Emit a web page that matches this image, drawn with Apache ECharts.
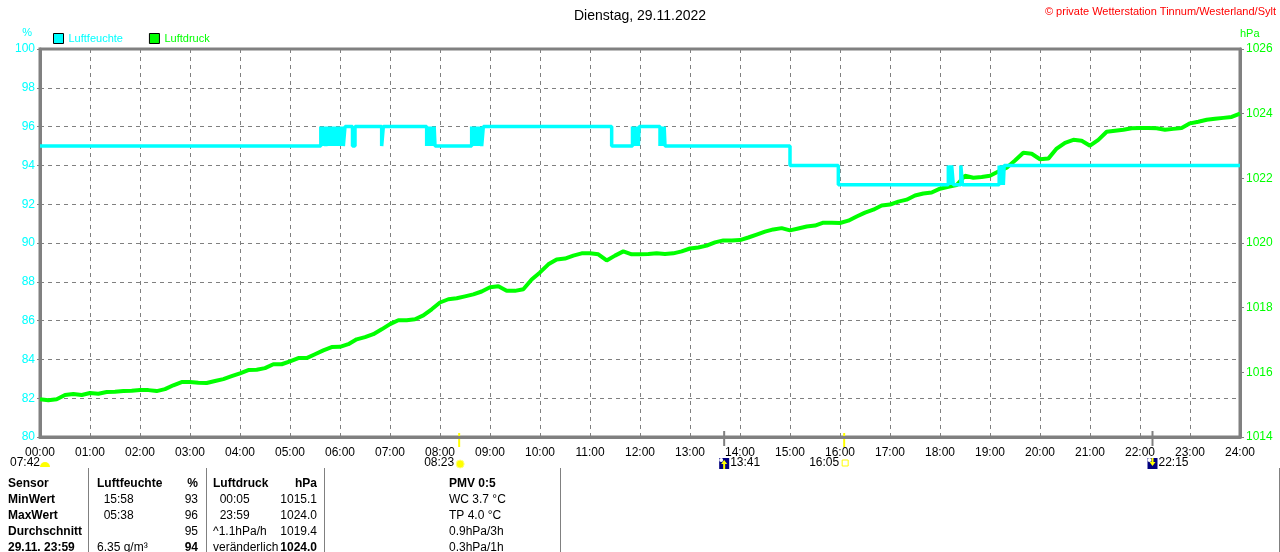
<!DOCTYPE html>
<html>
<head>
<meta charset="utf-8">
<script src="https://cdn.jsdelivr.net/npm/echarts@6/dist/echarts.min.js"></script>
<style>
  html, body { margin: 0; padding: 0; background: #fff; }
  #chart { width: 1280px; height: 552px; }
</style>
</head>
<body>
<div id="chart"></div>
<script>
// x ticks (minutes since midnight -> label)
const xTickLabels = ['00:00','01:00','02:00','03:00','04:00','05:00','06:00','07:00','08:00','09:00','10:00','11:00','12:00',
  '13:00','14:00','15:00','16:00','17:00','18:00','19:00','20:00','21:00','22:00','23:00','24:00'];

// Luftfeuchte: change points (minute, %), value holds until next point
const humTimes = [0,337,338,339,340,341,343,345,346,347,348,349,350,351,352,353,354,355,356,357,358,359,360,361,362,363,364,366,
  375,378,410,412,464,465,466,467,468,469,470,471,472,473,474,
  518,519,520,521,522,523,524,525,526,527,528,530,532,686,
  711,712,713,714,715,716,717,718,719,744,745,746,747,748,749,750,
  900,958,1090,1091,1092,1093,1094,1096,1105,1107,1151,1152,1153,1154,1155,1156,1157,1440];
const humValues = [95,96,95,96,95,96,95,96,95,96,95,96,95,96,95,96,95,96,95,96,95,96,95,96,95,96,95,96,
  95,96,95,96,95,96,95,96,95,96,95,96,95,96,95,
  96,95,96,95,96,95,96,95,96,95,96,95,96,95,
  96,95,96,95,96,95,96,95,96,95,96,95,96,95,96,95,
  94,93,94,93,94,93,94,93,94,93,94,93,94,93,94,93,94,94];

// Luftdruck every 10 minutes, hPa
const presStep = 10;
const presValues = [
  1015.17,1015.14,1015.17,1015.30,1015.33,1015.30,1015.36,1015.34,1015.39,1015.40,
  1015.42,1015.43,1015.45,1015.45,1015.42,1015.48,1015.60,1015.70,1015.70,1015.68,
  1015.67,1015.73,1015.79,1015.88,1015.97,1016.07,1016.08,1016.13,1016.25,1016.25,
  1016.34,1016.44,1016.44,1016.56,1016.68,1016.78,1016.79,1016.87,1017.02,1017.09,
  1017.18,1017.33,1017.49,1017.61,1017.61,1017.64,1017.76,1017.95,1018.16,1018.26,
  1018.29,1018.35,1018.41,1018.50,1018.63,1018.66,1018.52,1018.52,1018.57,1018.87,
  1019.09,1019.34,1019.49,1019.52,1019.61,1019.68,1019.68,1019.65,1019.46,1019.61,
  1019.74,1019.65,1019.65,1019.66,1019.68,1019.66,1019.68,1019.74,1019.83,1019.86,
  1019.92,1020.02,1020.08,1020.08,1020.09,1020.17,1020.26,1020.35,1020.42,1020.46,
  1020.39,1020.45,1020.51,1020.54,1020.63,1020.63,1020.62,1020.69,1020.82,1020.94,
  1021.03,1021.16,1021.19,1021.28,1021.34,1021.47,1021.53,1021.56,1021.68,1021.74,
  1021.79,1022.08,1022.02,1022.04,1022.08,1022.21,1022.33,1022.55,1022.79,1022.76,
  1022.59,1022.61,1022.92,1023.10,1023.19,1023.16,1023.01,1023.19,1023.44,1023.47,
  1023.50,1023.55,1023.56,1023.56,1023.55,1023.50,1023.53,1023.56,1023.70,1023.75,
  1023.81,1023.84,1023.87,1023.90,1024.00
];

// sun / moon events under the x axis
const sunTimes = [503, 965];          // 08:23 sunrise, 16:05 sunset
const sunLabels = ['08:23', '16:05'];
const moonTimes = [821, 1335];        // 13:41 moonrise, 22:15 moonset
const moonLabels = ['13:41', '22:15'];
const dawnLabel = '07:42';

// table below the chart
const tableHeader = ['Sensor', 'Luftfeuchte', '%', 'Luftdruck', 'hPa', 'PMV 0:5'];
const tableRows = [
  ['MinWert', '15:58', '93', '00:05', '1015.1', 'WC 3.7 °C'],
  ['MaxWert', '05:38', '96', '23:59', '1024.0', 'TP 4.0 °C'],
  ['Durchschnitt', '', '95', '^1.1hPa/h', '1019.4', '0.9hPa/3h'],
  ['29.11. 23:59', '6.35 g/m³', '94', 'veränderlich', '1024.0', '0.3hPa/1h']
];

const CYAN = '#00ffff', GREEN = '#00ff00', GRAY = '#808080';
const FONT = 'Liberation Sans, Arial, sans-serif';

const chart = echarts.init(document.getElementById('chart'), null, { renderer: 'canvas' });

const humData = humTimes.map((t, i) => [t, humValues[i]]);
const presData = presValues.map((v, i) => [i * presStep, v]);

chart.setOption({
  animation: false,
  backgroundColor: '#fff',
  textStyle: { fontFamily: FONT },
  title: {
    text: 'Dienstag, 29.11.2022',
    left: 'center', top: 4,
    textStyle: { fontSize: 14, fontWeight: 'normal', color: '#000', fontFamily: FONT }
  },
  legend: {
    left: 48, top: 28,
    itemWidth: 10, itemHeight: 10, itemGap: 26,
    icon: 'rect',
    itemStyle: { borderColor: '#000', borderWidth: 1 },
    data: [
      { name: 'Luftfeuchte', textStyle: { color: CYAN } },
      { name: 'Luftdruck', textStyle: { color: GREEN } }
    ],
    textStyle: { fontSize: 11, fontFamily: FONT }
  },
  grid: { left: 40, right: 40, top: 49, bottom: 115, show: true, borderColor: GRAY, borderWidth: 3 },
  xAxis: {
    type: 'value', min: 0, max: 1440, interval: 60,
    axisLine: { show: true, lineStyle: { color: GRAY, width: 3 } },
    axisTick: { show: false },
    axisLabel: { color: '#000', fontSize: 12, margin: 10, formatter: v => xTickLabels[v / 60] },
    splitLine: { show: true, lineStyle: { color: GRAY, type: [4, 4], width: 1 } }
  },
  yAxis: [
    {
      type: 'value', min: 80, max: 100, interval: 2, position: 'left',
      name: '%', nameLocation: 'end', nameGap: 11,
      nameTextStyle: { color: CYAN, fontSize: 11, align: 'right', padding: [0, 8, 0, 0] },
      axisLine: { show: true, lineStyle: { color: GRAY, width: 3 } },
      axisTick: { show: true, length: 3, lineStyle: { color: GRAY } },
      axisLabel: { color: CYAN, fontSize: 12, margin: 5, formatter: v => String(v) },
      splitLine: { show: true, lineStyle: { color: GRAY, type: [4, 4], width: 1 } }
    },
    {
      type: 'value', min: 1014, max: 1026, interval: 2, position: 'right',
      name: 'hPa', nameLocation: 'end', nameGap: 10,
      nameTextStyle: { color: GREEN, fontSize: 11, align: 'left' },
      axisLine: { show: true, lineStyle: { color: GRAY, width: 3 } },
      axisTick: { show: true, length: 4, lineStyle: { color: GRAY } },
      axisLabel: { color: GREEN, fontSize: 12, margin: 6, formatter: v => String(v) },
      splitLine: { show: false }
    }
  ],
  series: [
    {
      name: 'Luftdruck', type: 'line', yAxisIndex: 1, data: presData,
      showSymbol: false, color: GREEN,
      lineStyle: { color: GREEN, width: 4 }
    },
    {
      name: 'Luftfeuchte', type: 'line', yAxisIndex: 0, data: humData,
      step: 'end', showSymbol: false, color: CYAN,
      lineStyle: { color: CYAN, width: 3.5 }
    }
  ]
});

// annotations: need axis pixel positions
const axisY = chart.convertToPixel({ yAxisIndex: 0 }, 80);
const g = [];

g.push({
  type: 'text', right: 4, top: 6,
  style: { text: '© private Wetterstation Tinnum/Westerland/Sylt', fill: '#ff0000', font: '11px ' + FONT }
});

// dawn label at left edge
g.push({ type: 'text', x: 10, y: axisY + 20, style: { text: dawnLabel, fill: '#000', font: '12px ' + FONT } });
g.push({ type: 'sector', shape: { cx: 45, cy: axisY + 30, r0: 0, r: 5, startAngle: Math.PI, endAngle: 2 * Math.PI }, style: { fill: '#ffff00' } });

sunTimes.forEach((t, i) => {
  const x = chart.convertToPixel({ xAxisIndex: 0 }, t);
  g.push({ type: 'line', shape: { x1: x, y1: axisY - 4, x2: x, y2: axisY + 10 }, style: { stroke: '#ffff00', lineWidth: 2 } });
  g.push({ type: 'text', x: x - 5, y: axisY + 20, style: { text: sunLabels[i], fill: '#000', font: '12px ' + FONT, align: 'right' } });
  if (i === 0) {
    g.push({ type: 'circle', shape: { cx: x + 1, cy: axisY + 27, r: 4 }, style: { fill: '#ffff00', stroke: '#ffff80', lineWidth: 1 } });
  } else {
    g.push({ type: 'rect', shape: { x: x - 2, y: axisY + 23, width: 6, height: 6 }, style: { fill: 'none', stroke: '#ffff00', lineWidth: 1 } });
  }
});

moonTimes.forEach((t, i) => {
  const x = chart.convertToPixel({ xAxisIndex: 0 }, t);
  g.push({ type: 'line', shape: { x1: x, y1: axisY - 6, x2: x, y2: axisY + 9 }, style: { stroke: GRAY, lineWidth: 2 } });
  g.push({ type: 'rect', shape: { x: x - 5, y: axisY + 21, width: 10, height: 11 }, style: { fill: '#000080' } });
  g.push({ type: 'circle', shape: { cx: x - 3, cy: axisY + 23, r: 2 }, style: { fill: '#fff' } });
  const up = i === 0;
  g.push({
    type: 'polygon',
    shape: { points: up
      ? [[x, axisY + 23], [x + 3, axisY + 27], [x + 1, axisY + 27], [x + 1, axisY + 32], [x - 1, axisY + 32], [x - 1, axisY + 27], [x - 3, axisY + 27]]
      : [[x, axisY + 29], [x + 3, axisY + 25], [x + 1, axisY + 25], [x + 1, axisY + 21], [x - 1, axisY + 21], [x - 1, axisY + 25], [x - 3, axisY + 25]] },
    style: { fill: '#ffff00' }
  });
  g.push({ type: 'text', x: x + 6, y: axisY + 20, style: { text: moonLabels[i], fill: '#000', font: '12px ' + FONT } });
});

// table
const sepX = [88, 206, 324, 560, 1279];
sepX.forEach(x => g.push({ type: 'line', shape: { x1: x + 0.5, y1: 468, x2: x + 0.5, y2: 552 }, style: { stroke: GRAY, lineWidth: 1 } }));

// columns: [x, align]
const cols = [[8, 'left'], [97, 'left'], [198, 'right'], [213, 'left'], [317, 'right'], [449, 'left']];
const rowY = [478, 494, 510, 526, 542];
const cell = (txt, c, r, bold) => g.push({
  type: 'text', x: cols[c][0], y: rowY[r],
  style: { text: txt, fill: '#000', align: cols[c][1], font: (bold ? 'bold ' : '') + '12px ' + FONT }
});
tableHeader.forEach((t, c) => cell(t, c, 0, true));
tableRows.forEach((row, r) => {
  row.forEach((t, c) => {
    let txt = t;
    if ((c === 1 || c === 3) && r < 2) txt = '  ' + t;
    const bold = c === 0 || (r === 3 && (c === 2 || c === 4));
    cell(txt, c, r + 1, bold);
  });
});

chart.setOption({ graphic: g });
</script>
</body>
</html>
